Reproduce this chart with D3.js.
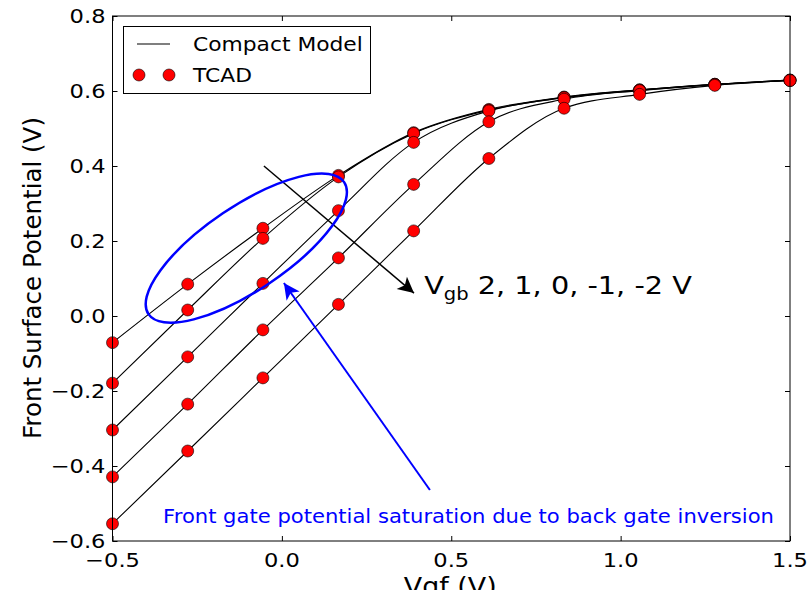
<!DOCTYPE html>
<html>
<head>
<meta charset="utf-8">
<script src="https://cdn.jsdelivr.net/npm/d3@7"></script>
<style>
  html, body { margin: 0; padding: 0; background: #fff; }
  svg { display: block; font-family: "DejaVu Sans", sans-serif; }
</style>
</head>
<body>
<svg id="chart" width="810" height="590"></svg>
<script>
// ---- data ----
const vgf = [-0.5, -0.278, -0.056, 0.167, 0.389, 0.611, 0.833, 1.056, 1.278, 1.5];
const vgbLabels = ["2", "1", "0", "-1", "-2"];
const psiVgb2  = [-0.071, 0.085, 0.234, 0.375, 0.489, 0.551, 0.584, 0.603, 0.618, 0.629];
const psiVgb1  = [-0.179, 0.016, 0.207, 0.371, 0.487, 0.549, 0.583, 0.603, 0.618, 0.629];
const psiVgb0  = [-0.304, -0.109, 0.087, 0.281, 0.463, 0.547, 0.582, 0.602, 0.617, 0.629];
const psiVgbM1 = [-0.429, -0.235, -0.037, 0.155, 0.351, 0.518, 0.578, 0.601, 0.617, 0.628];
const psiVgbM2 = [-0.554, -0.360, -0.165, 0.031, 0.227, 0.420, 0.554, 0.591, 0.615, 0.628];
const seriesList = [psiVgb2, psiVgb1, psiVgb0, psiVgbM1, psiVgbM2];
const xTicks = [-0.5, 0.0, 0.5, 1.0, 1.5];
const yTicks = [-0.6, -0.4, -0.2, 0.0, 0.2, 0.4, 0.6, 0.8];
const legendLabels = ["Compact Model", "TCAD"];
const xLabel = "Vgf (V)";
const yLabel = "Front Surface Potential (V)";
const noteText = "Front gate potential saturation due to back gate inversion";

// ---- layout ----
const svg = d3.select("#chart");
const L = 112.5, R = 790, T = 16, B = 541;
const x = d3.scaleLinear().domain([-0.5, 1.5]).range([L, R]);
const y = d3.scaleLinear().domain([-0.6, 0.8]).range([B, T]);
const fmt = d => (d < 0 ? "\u2212" : "") + Math.abs(d).toFixed(1);

// horizontally widened text (the reference glyphs are wider than tall)
function wideText(parent, px, py, size, sx) {
  return parent.append("text")
    .attr("transform", `translate(${px},${py}) scale(${sx},1)`)
    .attr("font-size", size);
}

const defs = svg.append("defs");
defs.append("clipPath").attr("id", "clip")
  .append("rect").attr("x", L).attr("y", T).attr("width", R - L).attr("height", B - T);
function marker(id, color) {
  defs.append("marker").attr("id", id)
    .attr("viewBox", "0 0 10 10").attr("refX", 10).attr("refY", 5)
    .attr("markerUnits", "userSpaceOnUse")
    .attr("markerWidth", 22).attr("markerHeight", 16).attr("orient", "auto")
    .append("path").attr("d", "M0,0 L10,5 L0,10 L2.5,5 Z").attr("fill", color);
}
marker("arrK", "#000");
marker("arrB", "#0000ff");

// axes (ticks inside, all four sides)
const tickLen = 5;
const gx = svg.append("g").attr("transform", `translate(0,${B})`)
  .call(d3.axisBottom(x).tickValues(xTicks).tickFormat("").tickSize(-tickLen));
const gxt = svg.append("g").attr("transform", `translate(0,${T})`)
  .call(d3.axisTop(x).tickValues(xTicks).tickFormat("").tickSize(-tickLen));
const gy = svg.append("g").attr("transform", `translate(${L},0)`)
  .call(d3.axisLeft(y).tickValues(yTicks).tickFormat("").tickSize(-tickLen));
const gyr = svg.append("g").attr("transform", `translate(${R},0)`)
  .call(d3.axisRight(y).tickValues(yTicks).tickFormat("").tickSize(-tickLen));
[gx, gxt, gy, gyr].forEach(g => {
  g.select(".domain").remove();
  g.selectAll(".tick line").attr("stroke", "#000").attr("stroke-width", 1);
});
// tick labels placed via the scales
const tl = svg.append("g").attr("fill", "#000");
xTicks.forEach(v => wideText(tl, x(v), 567, 20, 1.13).attr("text-anchor", "middle").text(fmt(v)));
yTicks.forEach(v => wideText(tl, L - 7, y(v) + 7, 20, 1.13).attr("text-anchor", "end").text(fmt(v)));

// model lines
const line = d3.line().x((d, i) => x(vgf[i])).y(d => y(d)).curve(d3.curveMonotoneX);
const plot = svg.append("g").attr("clip-path", "url(#clip)");
plot.selectAll(".model").data(seriesList).join("path")
  .attr("d", line).attr("fill", "none").attr("stroke", "#000").attr("stroke-width", 1.1);

// TCAD markers
const pts = seriesList.flatMap(s => s.map((v, i) => ({ x: vgf[i], y: v })));
svg.append("g").selectAll("circle").data(pts).join("circle")
  .attr("cx", d => x(d.x)).attr("cy", d => y(d.y)).attr("r", 6)
  .attr("fill", "#ff0000").attr("stroke", "#000").attr("stroke-width", 0.6);

// frame
svg.append("rect").attr("x", L).attr("y", T).attr("width", R - L).attr("height", B - T)
  .attr("fill", "none").attr("stroke", "#000").attr("stroke-width", 1);

// legend
const lg = svg.append("g");
lg.append("rect").attr("x", 123.5).attr("y", 26.5).attr("width", 247).attr("height", 67)
  .attr("fill", "#fff").attr("stroke", "#000").attr("stroke-width", 1);
lg.append("line").attr("x1", 137).attr("x2", 170).attr("y1", 44).attr("y2", 44)
  .attr("stroke", "#000").attr("stroke-width", 1.1);
wideText(lg, 193, 51, 20, 1.09).text(legendLabels[0]);
[139, 169].forEach(cx => lg.append("circle").attr("cx", cx).attr("cy", 75).attr("r", 6)
  .attr("fill", "#ff0000").attr("stroke", "#000").attr("stroke-width", 0.6));
wideText(lg, 193, 82, 20, 1.09).text(legendLabels[1]);

// annotations
svg.append("line")
  .attr("x1", x(-0.053)).attr("y1", y(0.40)).attr("x2", x(0.39)).attr("y2", y(0.061))
  .attr("stroke", "#000").attr("stroke-width", 1.5).attr("marker-end", "url(#arrK)");
const vt = wideText(svg, x(0.42), y(0.059), 25, 1.15);
vt.append("tspan").text("V");
vt.append("tspan").attr("font-size", 17).attr("dy", 6).text("gb");
vt.append("tspan").attr("dy", -6).text(" " + vgbLabels.join(", ") + " V");

svg.append("ellipse").attr("cx", 0).attr("cy", 0).attr("rx", 118).attr("ry", 42)
  .attr("transform", `translate(${x(-0.105)},${y(0.181)}) rotate(-34)`)
  .attr("fill", "none").attr("stroke", "#0000ff").attr("stroke-width", 2.5);
svg.append("line")
  .attr("x1", x(0.437)).attr("y1", y(-0.464)).attr("x2", x(0.006)).attr("y2", y(0.088))
  .attr("stroke", "#0000ff").attr("stroke-width", 2).attr("marker-end", "url(#arrB)");
wideText(svg, x(0.551), y(-0.552), 20, 1.055).attr("text-anchor", "middle")
  .attr("fill", "#0000ff").text(noteText);

// axis labels
wideText(svg, (L + R) / 2 - 1, 595, 24, 1.12).attr("text-anchor", "middle").text(xLabel);
svg.append("text").attr("transform", `translate(41,278) rotate(-90)`)
  .attr("text-anchor", "middle").attr("font-size", 24.5).text(yLabel);
</script>
</body>
</html>
